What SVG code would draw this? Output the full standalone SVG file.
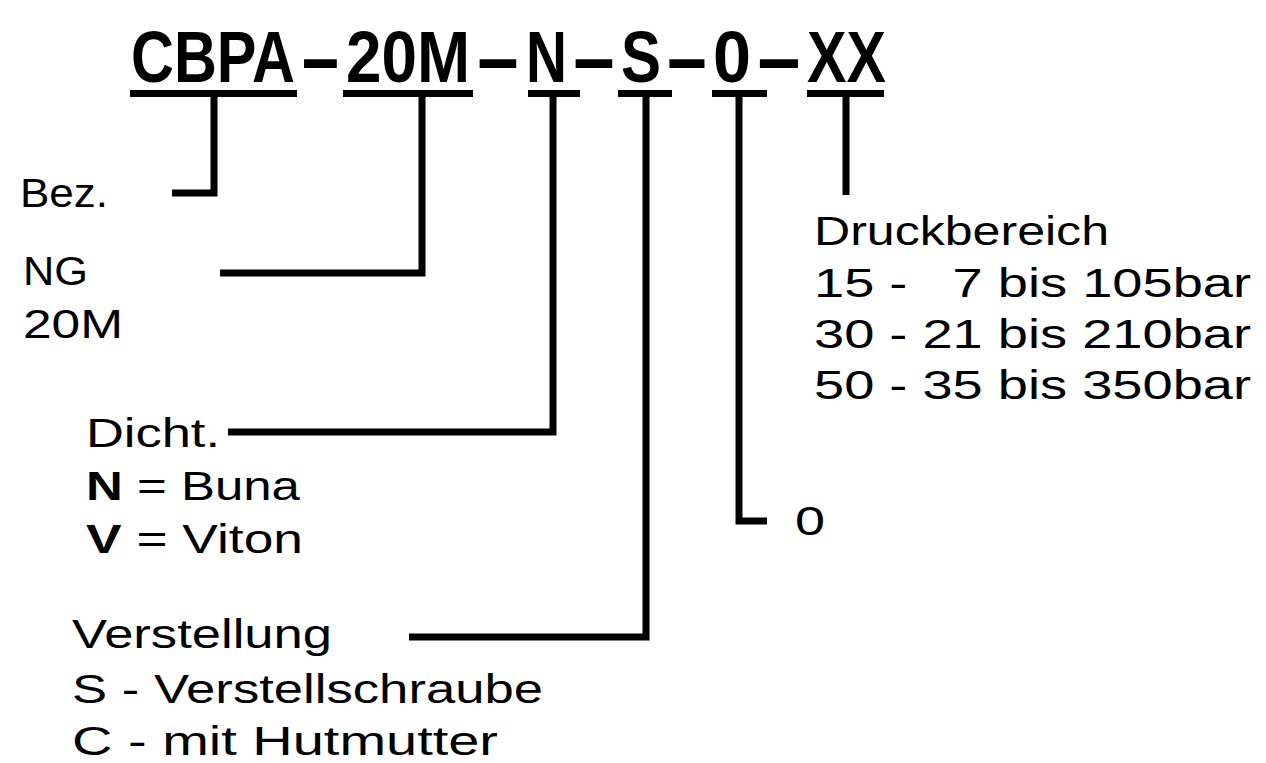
<svg xmlns="http://www.w3.org/2000/svg" width="1266" height="763" viewBox="0 0 1266 763">
<style>
.t{font-family:"Liberation Sans",Arial,sans-serif;font-size:40px;fill:#000}
.title{font-family:"Liberation Sans",Arial,sans-serif;font-size:72px;font-weight:bold;fill:#000}
.ln{fill:none;stroke:#000;stroke-width:7;stroke-linejoin:miter;stroke-linecap:butt}
.b{font-weight:bold}
</style>
<rect x="0" y="0" width="1266" height="763" fill="#fff"/>
<g id="title">
<text class="title" y="82"><tspan x="131" textLength="164" lengthAdjust="spacingAndGlyphs">CBPA</tspan><tspan x="299" textLength="43" lengthAdjust="spacingAndGlyphs">-</tspan><tspan x="346" textLength="124" lengthAdjust="spacingAndGlyphs">20M</tspan><tspan x="474" textLength="48" lengthAdjust="spacingAndGlyphs">-</tspan><tspan x="526" textLength="41" lengthAdjust="spacingAndGlyphs">N</tspan><tspan x="570" textLength="48" lengthAdjust="spacingAndGlyphs">-</tspan><tspan x="621" textLength="40" lengthAdjust="spacingAndGlyphs">S</tspan><tspan x="664" textLength="46" lengthAdjust="spacingAndGlyphs">-</tspan><tspan x="713" textLength="38" lengthAdjust="spacingAndGlyphs">0</tspan><tspan x="754" textLength="50" lengthAdjust="spacingAndGlyphs">-</tspan><tspan x="807" textLength="79" lengthAdjust="spacingAndGlyphs">XX</tspan></text>
</g>
<g id="underlines">
<line class="ln" x1="130" y1="93.5" x2="297" y2="93.5"/>
<line class="ln" x1="343" y1="93.5" x2="473" y2="93.5"/>
<line class="ln" x1="528" y1="93.5" x2="580" y2="93.5"/>
<line class="ln" x1="618" y1="93.5" x2="672" y2="93.5"/>
<line class="ln" x1="712" y1="93.5" x2="767" y2="93.5"/>
<line class="ln" x1="807" y1="93.5" x2="884" y2="93.5"/>
</g>
<g id="connectors">
<polyline class="ln" points="214,97 214,193 172,193"/>
<polyline class="ln" points="422,97 422,273 220,273"/>
<polyline class="ln" points="553,97 553,432 228,432"/>
<polyline class="ln" points="646,97 646,637 409,637"/>
<polyline class="ln" points="739,97 739,521 767,521"/>
<polyline class="ln" points="846,97 846,195"/>
</g>
<g id="node-bez">
<text class="t" x="20" y="207" textLength="88" lengthAdjust="spacingAndGlyphs">Bez.</text>
</g>
<g id="node-ng">
<text class="t" x="23" y="285" textLength="65" lengthAdjust="spacingAndGlyphs">NG</text>
<text class="t" x="23" y="338" textLength="100" lengthAdjust="spacingAndGlyphs">20M</text>
</g>
<g id="node-dicht">
<text class="t" x="86" y="447" textLength="134" lengthAdjust="spacingAndGlyphs">Dicht.</text>
<text class="t" x="86" y="500" textLength="214" lengthAdjust="spacingAndGlyphs"><tspan class="b">N</tspan> = Buna</text>
<text class="t" x="86" y="553" textLength="217" lengthAdjust="spacingAndGlyphs"><tspan class="b">V</tspan> = Viton</text>
</g>
<g id="node-verstellung">
<text class="t" x="72" y="648" textLength="260" lengthAdjust="spacingAndGlyphs">Verstellung</text>
<text class="t" x="72" y="703" textLength="471" lengthAdjust="spacingAndGlyphs">S - Verstellschraube</text>
<text class="t" x="72" y="755" textLength="426" lengthAdjust="spacingAndGlyphs">C - mit Hutmutter</text>
</g>
<g id="node-zero">
<text class="t" x="795" y="535" textLength="30" lengthAdjust="spacingAndGlyphs">0</text>
</g>
<g id="node-druck">
<text class="t" x="814" y="245" textLength="295" lengthAdjust="spacingAndGlyphs">Druckbereich</text>
<text class="t" x="814" y="297" textLength="437" lengthAdjust="spacingAndGlyphs" xml:space="preserve" style="white-space:pre">15 -   7 bis 105bar</text>
<text class="t" x="814" y="348" textLength="437" lengthAdjust="spacingAndGlyphs">30 - 21 bis 210bar</text>
<text class="t" x="814" y="399" textLength="437" lengthAdjust="spacingAndGlyphs">50 - 35 bis 350bar</text>
</g>
</svg>
